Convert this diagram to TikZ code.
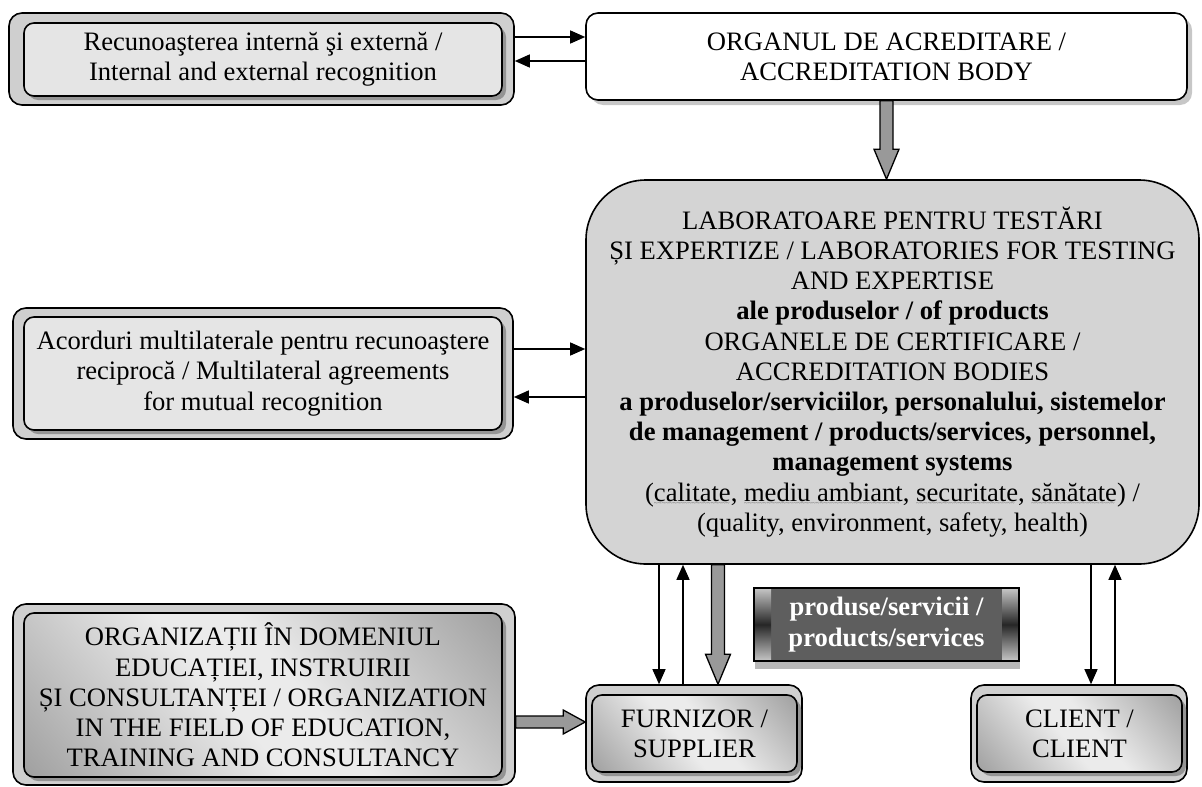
\documentclass[tikz,border=0pt]{standalone}
\usepackage{fontspec}
\setmainfont{Liberation Serif}
\usetikzlibrary{arrows.meta,calc,shadows}

\newcommand{\bodyfont}{\fontsize{26.6}{30.2}\selectfont}
\newcommand{\squig}[1]{\setbox0\hbox{#1}\rlap{\color{black!60}\lower4.5pt\hbox to \wd0{\leaders\hbox{\fontsize{7}{7}\selectfont\char"7E}\hfill}}#1}
\newcommand{\fatdown}[2]{\draw[fatarr] let \p1=(#1), \p2=(#2) in (\x1-6.5pt,\y1) -- (\x1-6.5pt,\y2+30pt) -- (\x1-12.5pt,\y2+30pt) -- (\x1,\y2) -- (\x1+12.5pt,\y2+30pt) -- (\x1+6.5pt,\y2+30pt) -- (\x1+6.5pt,\y1) -- cycle;}
\newcommand{\fatright}[2]{\draw[fatarr] let \p1=(#1), \p2=(#2) in (\x1,\y1+6pt) -- (\x2-22pt,\y1+6pt) -- (\x2-22pt,\y1+12pt) -- (\x2,\y1) -- (\x2-22pt,\y1-12pt) -- (\x2-22pt,\y1-6pt) -- (\x1,\y1-6pt) -- cycle;}

\pgfdeclarehorizontalshading{metal}{100bp}{color(0bp)=(black!52); color(45bp)=(black!8); color(55bp)=(black!8); color(100bp)=(black!52)}

\tikzset{
	outerbox/.style={draw, line width=1.6pt, rounded corners=13pt, fill=black!19},
	innerbox/.style={draw, line width=1.6pt, rounded corners=10pt, fill=black!10, align=center, inner sep=0pt,
		drop shadow={shadow xshift=4pt, shadow yshift=-4pt, fill=black!42, opacity=1}},
	metalbox/.style={innerbox, shade, shading=metal, shading angle=40},
	whitebox/.style={draw, line width=1.6pt, rounded corners=12pt, fill=white, align=center, inner sep=0pt,
		drop shadow={shadow xshift=5pt, shadow yshift=-5pt, fill=black!22, opacity=1}},
	labbox/.style={draw, line width=1.6pt, rounded corners=60pt, fill=black!17, align=center, inner sep=0pt},
	darkbox/.style={draw, line width=1.3pt, fill=black!63, text=white, align=center, inner sep=0pt, font=\bodyfont\bfseries,
		drop shadow={shadow xshift=1pt, shadow yshift=-8pt, fill=black!28, opacity=1},
		path picture={
			\shade[top color=black!22, bottom color=black!22, middle color=black!85] (path picture bounding box.north west) rectangle ([xshift=17pt]path picture bounding box.south west);
			\shade[top color=black!22, bottom color=black!22, middle color=black!85] ([xshift=-17pt]path picture bounding box.north east) rectangle (path picture bounding box.south east);
		}},
	arr/.style={line width=1.3pt, -{Triangle[length=15pt,width=13pt]}},
	fatarr/.style={draw, line width=1.3pt, fill=black!40}
}

\begin{document}
\begin{tikzpicture}[x=1pt, y=-1pt, font=\bodyfont, line join=miter]
	\useasboundingbox (0,0) rectangle (1202,787);
	% left boxes
	\node[outerbox, minimum width=505pt, minimum height=92pt] (recunO) at (261.5,59) {};
	\node[innerbox, minimum width=478pt, minimum height=73pt] (recun) at (263,59.5) {Recunoaşterea internă şi externă /\\Internal and external recognition};
	\node[outerbox, minimum width=500pt, minimum height=131pt] (acordO) at (263,373.5) {};
	\node[innerbox, minimum width=478pt, minimum height=113pt] (acord) at (263,373.5) {Acorduri multilaterale pentru recunoaştere\\reciprocă / Multilateral agreements\\for mutual recognition};
	\node[outerbox, minimum width=502pt, minimum height=181pt] (orgO) at (264,694.5) {};
	\node[metalbox, minimum width=478pt, minimum height=164pt] (org) at (263,695) {ORGANIZAȚII ÎN DOMENIUL\\EDUCAȚIEI, INSTRUIRII\\ȘI CONSULTANȚEI / ORGANIZATION\\IN THE FIELD OF EDUCATION,\\TRAINING AND CONSULTANCY};
	% right boxes
	\node[whitebox, minimum width=601pt, minimum height=87pt] (organul) at (886.5,56.5) {ORGANUL DE ACREDITARE /\\ACCREDITATION BODY};
	\node[labbox, minimum width=613pt, minimum height=384pt] (lab) at (892.5,372) {LABORATOARE PENTRU TESTĂRI\\ȘI EXPERTIZE / LABORATORIES FOR TESTING\\AND EXPERTISE\\\textbf{ale produselor / of products}\\ORGANELE DE CERTIFICARE /\\ACCREDITATION BODIES\\\textbf{a produselor/serviciilor, personalului, sistemelor}\\\textbf{de management / products/services, personnel,}\\\textbf{management systems}\\(\squig{calitate}, \squig{mediu ambiant}, \squig{securitate}, \squig{sănătate}) /\\(quality, environment, safety, health)};
	\node[outerbox, minimum width=216pt, minimum height=97pt] (furO) at (694,733.5) {};
	\node[metalbox, minimum width=205pt, minimum height=77pt] (fur) at (694.5,733.5) {FURNIZOR /\\SUPPLIER};
	\node[outerbox, minimum width=216pt, minimum height=97pt] (clientO) at (1079,733.5) {};
	\node[metalbox, minimum width=205pt, minimum height=77pt] (client) at (1079.5,733.5) {CLIENT /\\CLIENT};
	\node[darkbox, minimum width=265pt, minimum height=73pt] (produse) at (886.5,624.5) {produse/servicii /\\products/services};
	% thin arrows
	\coordinate (t1) at ($(recunO.east)+(0,-22)$);
	\coordinate (t2) at ($(recunO.east)+(0,2)$);
	\draw[arr] (t1) -- (t1 -| organul.west);
	\draw[arr] (t2 -| organul.west) -- (t2);
	\coordinate (m1) at ($(acordO.east)+(0,-24.5)$);
	\coordinate (m2) at ($(acordO.east)+(0,23.5)$);
	\draw[arr] (m1) -- (m1 -| lab.west);
	\draw[arr] (m2 -| lab.west) -- (m2);
	\coordinate (f1) at ($(furO.north)+(-35,0)$);
	\coordinate (f2) at ($(furO.north)+(-11,0)$);
	\coordinate (f3) at ($(furO.north)+(24,0)$);
	\draw[arr] (f1 |- lab.south) -- (f1);
	\draw[arr] (f2) -- (f2 |- lab.south);
	\coordinate (c1) at ($(clientO.north)+(12,0)$);
	\coordinate (c2) at ($(clientO.north)+(36,0)$);
	\draw[arr] (c1 |- lab.south) -- (c1);
	\draw[arr] (c2) -- (c2 |- lab.south);
	% thick arrows
	\fatdown{organul.south}{organul.south |- lab.north}
	\fatdown{f3 |- lab.south}{f3}
	\coordinate (o1) at ($(orgO.east)+(0,27.5)$);
	\fatright{o1}{o1 -| furO.west}
\end{tikzpicture}
\end{document}
